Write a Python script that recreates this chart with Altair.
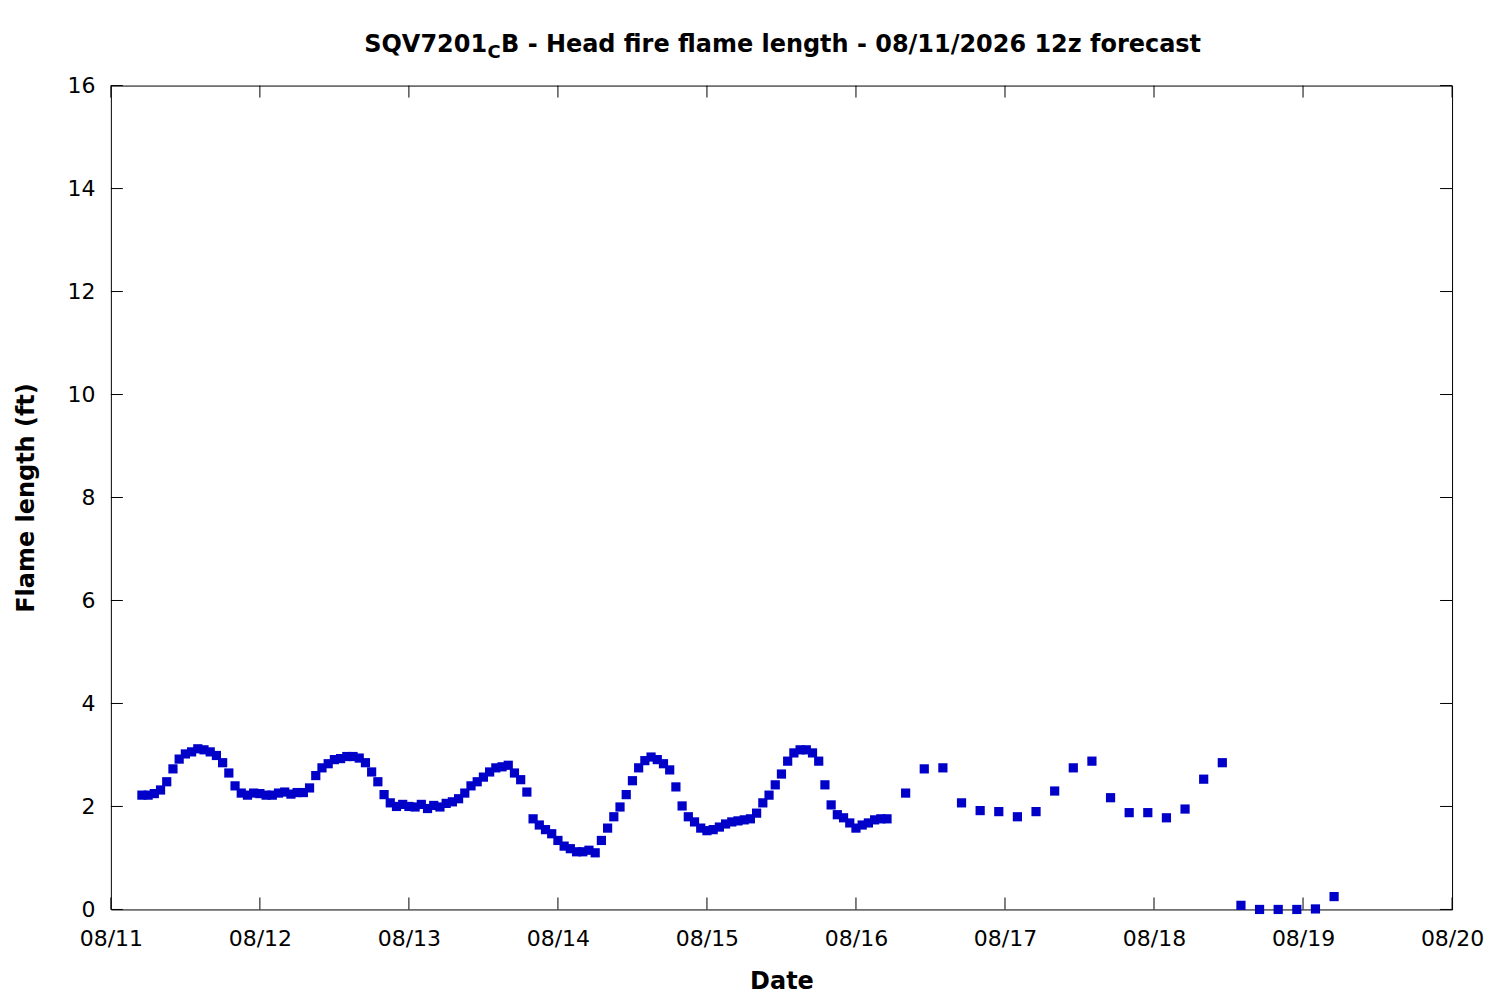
import altair as alt
import pandas as pd

# ---- data (hours since 2026-08-11 00:00 UTC, flame length in ft) ----
hours_hourly = list(range(5, 126))
flame_hourly = [
    2.22, 2.22, 2.25, 2.32, 2.48, 2.73, 2.92, 3.02, 3.06, 3.12,
    3.10, 3.06, 2.99, 2.85, 2.65, 2.40, 2.26, 2.22, 2.26, 2.25,
    2.22, 2.22, 2.26, 2.28, 2.24, 2.27, 2.27, 2.36, 2.60, 2.75,
    2.83, 2.91, 2.93, 2.97, 2.97, 2.94, 2.85, 2.67, 2.48, 2.23,
    2.07, 2.00, 2.04, 2.00, 1.99, 2.04, 1.96, 2.02, 1.99, 2.06,
    2.09, 2.15, 2.26, 2.40, 2.48, 2.57, 2.67, 2.75, 2.77, 2.80,
    2.65, 2.52, 2.28, 1.76, 1.64, 1.55, 1.47, 1.34, 1.23, 1.18,
    1.12, 1.12, 1.15, 1.10, 1.34, 1.58, 1.80, 1.99, 2.23, 2.50,
    2.75, 2.89, 2.96, 2.91, 2.83, 2.71, 2.38, 2.01, 1.80, 1.70,
    1.58, 1.53, 1.55, 1.60, 1.66, 1.70, 1.72, 1.74, 1.76, 1.87,
    2.07, 2.22, 2.42, 2.63, 2.88, 3.04, 3.10, 3.10, 3.04, 2.88,
    2.42, 2.03, 1.84, 1.78, 1.68, 1.58, 1.64, 1.68, 1.74, 1.76,
    1.76,
]
hours_3h = list(range(128, 198, 3))
flame_3h = [
    2.26, 2.73, 2.75, 2.07, 1.92, 1.90, 1.80, 1.90, 2.30, 2.75,
    2.88, 2.17, 1.88, 1.88, 1.78, 1.95, 2.53, 2.85, 0.08, 0.00,
    0.00, 0.00, 0.01, 0.25,
]
x_tick_labels = ["08/11", "08/12", "08/13", "08/14", "08/15",
                 "08/16", "08/17", "08/18", "08/19", "08/20"]
y_ticks = [0, 2, 4, 6, 8, 10, 12, 14, 16]

title_main = "SQV7201"
title_sub = "C"
title_rest = "B - Head fire flame length - 08/11/2026 12z forecast"


def iso(h):
    return f"2026-08-{11 + h // 24:02d}T{h % 24:02d}:00:00Z"


df = pd.DataFrame({
    "time": [iso(h) for h in hours_hourly + hours_3h],
    "flame": flame_hourly + flame_3h,
})
xt = pd.DataFrame({"time": [f"2026-{lab.replace('/', '-')}T00:00:00Z" for lab in x_tick_labels]})
yt = pd.DataFrame({"v": y_ticks})

W, H = 1343, 825
FONT = "DejaVu Sans"
BLUE = "#0000c8"

xscale = alt.Scale(type="utc",
                   domain=[alt.DateTime(year=2026, month=8, date=11, utc=True),
                           alt.DateTime(year=2026, month=8, date=20, utc=True)])
yscale = alt.Scale(domain=[0, 16], nice=False)

x_enc = alt.X("time:T", scale=xscale,
              axis=alt.Axis(title="Date", format="%m/%d",
                            values=[alt.DateTime(year=2026, month=8, date=d, utc=True) for d in range(11, 21)],
                            ticks=False, domain=False, grid=False, labelFlush=False,
                            labelOverlap=False, labelFontSize=22, labelFont=FONT,
                            labelColor="black", labelPadding=19,
                            titleFont=FONT, titleFontSize=24, titleFontWeight="bold",
                            titleColor="black", titlePadding=20))
y_enc = alt.Y("flame:Q", scale=yscale,
              axis=alt.Axis(title="Flame length (ft)", values=y_ticks,
                            ticks=False, domain=False, grid=False, labelFlush=False,
                            labelFontSize=22, labelFont=FONT, labelColor="black",
                            labelPadding=16, titleFont=FONT, titleFontSize=24,
                            titleFontWeight="bold", titleColor="black", titlePadding=28))

points = alt.Chart(df).mark_square(size=85, color=BLUE, opacity=1, filled=True).encode(
    x=x_enc, y=y_enc)

tick_style = dict(color="black", strokeWidth=1)
xb = alt.Chart(xt).mark_rule(**tick_style).encode(
    x=alt.X("time:T", scale=xscale), y=alt.value(H), y2=alt.value(H - 12))
xtp = alt.Chart(xt).mark_rule(**tick_style).encode(
    x=alt.X("time:T", scale=xscale), y=alt.value(0), y2=alt.value(12))
yl = alt.Chart(yt).mark_rule(**tick_style).encode(
    y=alt.Y("v:Q", scale=yscale), x=alt.value(0), x2=alt.value(12))
yr = alt.Chart(yt).mark_rule(**tick_style).encode(
    y=alt.Y("v:Q", scale=yscale), x=alt.value(W), x2=alt.value(W - 12))

title_df = pd.DataFrame({"a": [title_main], "b": [title_sub], "c": [title_rest]})
t1 = alt.Chart(title_df).mark_text(font=FONT, fontSize=24, fontWeight="bold",
                                   align="right", baseline="alphabetic", color="black").encode(
    text="a:N", x=alt.value(376.7), y=alt.value(-33.5))
t2 = alt.Chart(title_df).mark_text(font=FONT, fontSize=18, fontWeight="bold",
                                   align="left", baseline="alphabetic", color="black").encode(
    text="b:N", x=alt.value(377.2), y=alt.value(-27.7))
t3 = alt.Chart(title_df).mark_text(font=FONT, fontSize=24, fontWeight="bold",
                                   align="left", baseline="alphabetic", color="black").encode(
    text="c:N", x=alt.value(390.7), y=alt.value(-33.5))

chart = alt.layer(points, xb, xtp, yl, yr, t1, t2, t3).properties(
    width=W, height=H,
    autosize=alt.AutoSizeParams(type="none"),
    padding={"left": 103, "top": 77, "right": 40, "bottom": 90},
    background="white",
).configure_view(stroke="black", strokeWidth=1)

chart.save("out.html", embed_options={"renderer": "svg", "actions": False})
